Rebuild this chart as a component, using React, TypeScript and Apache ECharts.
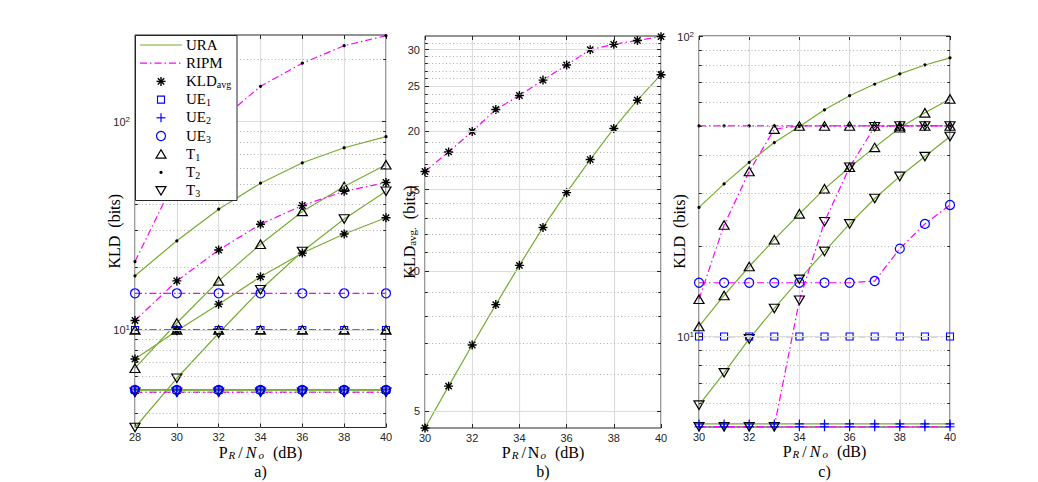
import React, { useEffect, useRef } from 'react';
import * as echarts from 'echarts';

// ---------------- data ----------------
const xA = [28, 30, 32, 34, 36, 38, 40];
const xB = [30, 31, 32, 33, 34, 35, 36, 37, 38, 39, 40];
const xC = [30, 31, 32, 33, 34, 35, 36, 37, 38, 39, 40];

// panel a
const aUraT2 = [18.2, 26.8, 38.0, 50.7, 63.5, 75.0, 84.8];
const aUraKld = [7.25, 9.9, 13.3, 18.0, 23.4, 28.9, 34.6];
const aUraT1 = [6.55, 10.8, 17.2, 25.8, 37.1, 48.9, 62.2];
const aUraT3 = [3.4, 5.86, 9.64, 15.6, 23.8, 34.1, 46.4];
const aUraUE = [5.15, 5.15, 5.15, 5.15, 5.15, 5.15, 5.15];
const aRipmT2 = [21.3, 55.0, 100.0, 148.0, 191.0, 232.0, 259.0];
const aRipmKld = [11.1, 17.2, 24.2, 32.2, 39.6, 46.3, 51.1];
const aRipmUE3 = [15.0, 15.0, 15.0, 15.0, 15.0, 15.0, 15.0];
const aRipmUE1 = [10.0, 10.0, 10.0, 10.0, 10.0, 10.0, 10.0];
const aRipmT1 = [10.0, 10.0, 10.0, 10.0, 10.0, 10.0, 10.0];
const aRipmLow = [5.02, 5.02, 5.02, 5.02, 5.02, 5.02, 5.02];

// panel b
const bRipmKld = [16.4, 18.07, 20.0, 22.3, 23.9, 25.8, 27.8, 30.0, 30.8, 31.4, 32.0];
const bUraKld = [4.6, 5.66, 6.94, 8.48, 10.3, 12.43, 14.77, 17.4, 20.3, 23.35, 26.5];

// panel c
const cUraT2 = [26.9, 32.2, 38.0, 44.2, 50.0, 56.8, 63.3, 69.2, 74.8, 80.1, 84.6];
const cUraT1 = [10.8, 13.7, 17.1, 21.0, 25.6, 31.0, 36.6, 42.6, 49.5, 55.5, 61.7];
const cUraT3 = [5.91, 7.57, 9.82, 12.4, 15.5, 19.2, 23.7, 28.8, 34.1, 39.7, 46.3];
const cUraUE2 = [5.12, 5.12, 5.12, 5.12, 5.12, 5.12, 5.12, 5.12, 5.12, 5.12, 5.12];
const cRipmUE2 = [5.01, 5.01, 5.01, 5.01, 5.01, 5.01, 5.01, 5.01, 5.01, 5.01, 5.01];
const cRipmT2 = [50.2, 50.2, 50.2, 50.2, 50.2, 50.2, 50.2, 50.2, 50.2, 50.2, 50.2];
const cRipmT1 = [13.3, 23.5, 35.4, 49.0, 50.2, 50.2, 50.2, 50.2, 50.2, 50.2, 50.2];
const cRipmT3 = [5.01, 5.01, 5.01, 5.01, 13.2, 24.1, 36.6, 49.9, 50.2, 50.2, 50.2];
const cRipmUE3 = [15.1, 15.1, 15.1, 15.1, 15.1, 15.1, 15.1, 15.3, 19.6, 23.7, 27.4];
const cRipmUE1 = [10.0, 10.0, 10.0, 10.0, 10.0, 10.0, 10.0, 10.0, 10.0, 10.0, 10.0];

// tick values
const aTicksMajor = [10, 100];
const aTicksMinor = [4, 5, 6, 7, 8, 9, 20, 30, 40, 50, 60, 70, 80, 90, 200];
const bTicksMajor = [5, 10, 15, 20, 25, 30];
const bTicksMinor = [6, 7, 8, 9, 11, 12, 13, 14, 16, 17, 18, 19, 21, 22, 23, 24, 26, 27, 28, 29, 31];
const cTicksMajor = [10, 100];
const cTicksMinor = [6, 7, 8, 9, 20, 30, 40, 50, 60, 70, 80, 90];

// ---------------- styles ----------------
const SANS = 'Liberation Sans, Arial, Helvetica, sans-serif';
const SERIF = 'Liberation Serif, Times New Roman, serif';
const AX = '#262626';
const GRID_MAJOR = '#dcdcdc';
const GRID_MINOR = '#b0b0b0';
const GREEN = '#77AC30';
const MAG = '#FF00FF';
const BLUE = '#0000FF';
const BLACK = '#000000';
const DASHDOT = [7, 3, 1.5, 3];

const ASTER = 'path://M0,-10L0,10M-10,0L10,0M-7.07,-7.07L7.07,7.07M-7.07,7.07L7.07,-7.07';
const PLUS = 'path://M0,-10L0,10M-10,0L10,0';

type MarkKey = 'kld' | 'ue1' | 'ue2' | 'ue3' | 't1' | 't2' | 't3';
const MARK: Record<MarkKey, any> = {
  kld: { symbol: ASTER, size: 9, rotate: 0, item: { color: 'none', borderColor: BLACK, borderWidth: 1.4 } },
  ue1: { symbol: 'rect', size: 7, rotate: 0, item: { color: 'none', borderColor: BLUE, borderWidth: 1.1 } },
  ue2: { symbol: PLUS, size: 9, rotate: 0, item: { color: 'none', borderColor: BLUE, borderWidth: 1.2 } },
  ue3: { symbol: 'circle', size: 9, rotate: 0, item: { color: 'none', borderColor: BLUE, borderWidth: 1.2 } },
  t1: { symbol: 'triangle', size: [10, 8.5], rotate: 0, item: { color: 'none', borderColor: BLACK, borderWidth: 1.2 } },
  t2: { symbol: 'circle', size: 3.2, rotate: 0, item: { color: BLACK, borderWidth: 0 } },
  t3: { symbol: 'triangle', size: [10, 8.5], rotate: 180, item: { color: 'none', borderColor: BLACK, borderWidth: 1.2 } },
};

function curve(panel: number, xs: number[], ys: number[], method: 'ura' | 'ripm', mark: MarkKey) {
  const m = MARK[mark];
  return {
    type: 'line',
    xAxisIndex: panel * 2,
    yAxisIndex: panel,
    data: xs.map((x, i) => [x, ys[i]]),
    symbol: m.symbol,
    symbolSize: m.size,
    symbolRotate: m.rotate,
    showSymbol: true,
    itemStyle: m.item,
    lineStyle:
      method === 'ura'
        ? { color: GREEN, width: 1.2, type: 'solid' }
        : { color: MAG, width: 1.2, type: DASHDOT },
    z: 3,
    silent: true,
    clip: false,
    animation: false,
    emphasis: { disabled: true },
  };
}

function gridSeries(
  panel: number,
  xmin: number,
  xmax: number,
  majors: number[],
  minors: number[],
  tick: number,
  withLabels: boolean
) {
  const data: any[] = [];
  for (const v of minors) {
    data.push({ yAxis: v, lineStyle: { color: GRID_MINOR, width: 1, type: [1, 2.5] }, label: { show: false } });
  }
  for (const v of majors) {
    data.push({
      yAxis: v,
      lineStyle: { color: GRID_MAJOR, width: 1.2, type: 'solid' },
      label: withLabels
        ? { show: true, position: 'start', formatter: String(v), color: AX, fontSize: 11, fontFamily: SANS, distance: 5 }
        : { show: false },
    });
  }
  const tickStyle = { color: AX, width: 1, type: 'solid' };
  for (const v of majors) {
    data.push([{ coord: [xmin, v], lineStyle: tickStyle, label: { show: false } }, { coord: [xmin + tick, v] }]);
    data.push([{ coord: [xmax - tick, v], lineStyle: tickStyle, label: { show: false } }, { coord: [xmax, v] }]);
  }
  for (const v of minors) {
    data.push([{ coord: [xmin, v], lineStyle: tickStyle, label: { show: false } }, { coord: [xmin + tick * 0.7, v] }]);
    data.push([{ coord: [xmax - tick * 0.7, v], lineStyle: tickStyle, label: { show: false } }, { coord: [xmax, v] }]);
  }
  return {
    type: 'line',
    xAxisIndex: panel * 2,
    yAxisIndex: panel,
    data: [],
    symbol: 'none',
    z: 1,
    silent: true,
    animation: false,
    markLine: {
      silent: true,
      animation: false,
      symbol: ['none', 'none'],
      label: { show: false },
      lineStyle: { type: 'solid', color: AX, width: 1 },
      emphasis: { disabled: true },
      data,
    },
  };
}

const nameRich = {
  n: { fontFamily: SERIF, fontSize: 16, color: BLACK, lineHeight: 16, verticalAlign: 'top' },
  ni: { fontFamily: SERIF, fontSize: 16, fontStyle: 'italic', color: BLACK, lineHeight: 16, verticalAlign: 'top', padding: [0, 1, 0, 1] },
  sl: { fontFamily: SERIF, fontSize: 16, color: BLACK, lineHeight: 16, verticalAlign: 'top', padding: [0, 2, 0, 2] },
  s: { fontFamily: SERIF, fontSize: 11, color: BLACK, lineHeight: 10, verticalAlign: 'bottom', padding: [8, 0, 0, 0] },
  si: { fontFamily: SERIF, fontSize: 11, fontStyle: 'italic', color: BLACK, lineHeight: 10, verticalAlign: 'bottom', padding: [8, 1, 0, 1] },
};

const powRich = {
  b: { fontFamily: SANS, fontSize: 11, color: AX, lineHeight: 12, verticalAlign: 'bottom' },
  p: { fontFamily: SANS, fontSize: 8, color: AX, lineHeight: 8, verticalAlign: 'top', padding: [0, 0, 6, 0] },
};

function powLabel(v: number) {
  const e = Math.log10(v);
  if (Math.abs(e - Math.round(e)) > 1e-6) return '';
  return `{b|10}{p|${Math.round(e)}}`;
}

const SP = '\u00a0\u00a0';
const xNameItalic = `{n|P}{si|R}{sl|/}{ni|N}{si|o}{n|${SP}(dB)}`;
const xNameRoman = `{n|P}{si|R}{sl|/}{n|N}{si|o}{n|${SP}(dB)}`;

const grids = [
  { left: 135, top: 35, width: 251, height: 392.5 },
  { left: 425, top: 36, width: 236, height: 392 },
  { left: 699, top: 36, width: 251, height: 391 },
];
const xRanges = [
  [28, 40],
  [30, 40],
  [30, 40],
];
const yRanges = [
  [3.4, 261],
  [4.6, 32.1],
  [5, 100],
];
const yNames = [`{n|KLD${SP}(bits)}`, `{n|KLD}{s|avg.}{n|${SP}(bits)}`, `{n|KLD${SP}(bits)}`];
const yNameGaps = [13, 8, 12];
const xNames = [xNameItalic, xNameRoman, xNameItalic];

function buildXAxes() {
  const axes: any[] = [];
  grids.forEach((_, i) => {
    const [mn, mx] = xRanges[i];
    axes.push({
      gridIndex: i,
      type: 'value',
      min: mn,
      max: mx,
      interval: 2,
      position: 'bottom',
      axisLine: { show: false },
      axisTick: { show: true, inside: true, length: 4, lineStyle: { color: AX, width: 1 } },
      axisLabel: { show: true, fontSize: 11, fontFamily: SANS, color: AX, margin: 4 },
      splitLine: { show: true, lineStyle: { color: GRID_MAJOR, width: 1.2 } },
      name: xNames[i],
      nameLocation: 'middle',
      nameGap: 16.5,
      nameMoveOverlap: false,
      nameTextStyle: { rich: nameRich },
    });
    axes.push({
      gridIndex: i,
      type: 'value',
      min: mn,
      max: mx,
      interval: 2,
      position: 'top',
      axisLine: { show: false },
      axisTick: { show: true, inside: true, length: 4, lineStyle: { color: AX, width: 1 } },
      axisLabel: { show: false },
      splitLine: { show: false },
    });
  });
  return axes;
}

function buildYAxes() {
  return grids.map((_, i) => ({
    gridIndex: i,
    type: 'log',
    logBase: 10,
    min: yRanges[i][0],
    max: yRanges[i][1],
    axisLine: { show: false },
    axisTick: { show: false },
    splitLine: { show: false },
    axisLabel:
      i === 1
        ? { show: false }
        : { show: true, margin: 5, formatter: (v: number) => powLabel(v), rich: powRich, showMinLabel: true, showMaxLabel: true },
    name: yNames[i],
    nameLocation: 'middle',
    nameGap: yNameGaps[i],
    nameMoveOverlap: false,
    nameRotate: 90,
    nameTextStyle: { rich: nameRich },
  }));
}

// ---------------- legend (graphic) ----------------
const legendRows: { label: string; line?: 'ura' | 'ripm'; mark?: MarkKey }[] = [
  { label: '{n|URA}', line: 'ura' },
  { label: '{n|RIPM}', line: 'ripm' },
  { label: '{n|KLD}{s|avg}', mark: 'kld' },
  { label: '{n|UE}{s|1}', mark: 'ue1' },
  { label: '{n|UE}{s|2}', mark: 'ue2' },
  { label: '{n|UE}{s|3}', mark: 'ue3' },
  { label: '{n|T}{s|1}', mark: 't1' },
  { label: '{n|T}{s|2}', mark: 't2' },
  { label: '{n|T}{s|3}', mark: 't3' },
];

const legendRich = {
  n: { fontFamily: SERIF, fontSize: 15, color: BLACK, lineHeight: 16, verticalAlign: 'top' },
  s: { fontFamily: SERIF, fontSize: 10, color: BLACK, lineHeight: 10, verticalAlign: 'bottom', padding: [8, 0, 0, 0] },
};

function markerGraphic(m: MarkKey, cx: number, cy: number): any[] {
  const Z = 102;
  const ln = (x1: number, y1: number, x2: number, y2: number, c: string, w: number) => ({
    type: 'line',
    z: Z,
    silent: true,
    shape: { x1: cx + x1, y1: cy + y1, x2: cx + x2, y2: cy + y2 },
    style: { stroke: c, lineWidth: w },
  });
  switch (m) {
    case 'kld':
      return [
        ln(0, -4.5, 0, 4.5, BLACK, 1.4),
        ln(-4.5, 0, 4.5, 0, BLACK, 1.4),
        ln(-3.2, -3.2, 3.2, 3.2, BLACK, 1.4),
        ln(-3.2, 3.2, 3.2, -3.2, BLACK, 1.4),
      ];
    case 'ue1':
      return [{ type: 'rect', z: Z, silent: true, shape: { x: cx - 3.5, y: cy - 3.5, width: 7, height: 7 }, style: { fill: 'none', stroke: BLUE, lineWidth: 1.1 } }];
    case 'ue2':
      return [ln(0, -4.5, 0, 4.5, BLUE, 1.2), ln(-4.5, 0, 4.5, 0, BLUE, 1.2)];
    case 'ue3':
      return [{ type: 'circle', z: Z, silent: true, shape: { cx, cy, r: 4.5 }, style: { fill: 'none', stroke: BLUE, lineWidth: 1.2 } }];
    case 't1':
      return [{ type: 'polygon', z: Z, silent: true, shape: { points: [[cx, cy - 4.5], [cx - 5, cy + 4], [cx + 5, cy + 4]] }, style: { fill: 'none', stroke: BLACK, lineWidth: 1.2 } }];
    case 't2':
      return [{ type: 'circle', z: Z, silent: true, shape: { cx, cy, r: 1.6 }, style: { fill: BLACK } }];
    case 't3':
      return [{ type: 'polygon', z: Z, silent: true, shape: { points: [[cx - 5, cy - 4], [cx + 5, cy - 4], [cx, cy + 4.5]] }, style: { fill: 'none', stroke: BLACK, lineWidth: 1.2 } }];
  }
  return [];
}

function buildGraphic() {
  const els: any[] = [];
  const LX = 135.5, LY = 35.5, LW = 101.5, LH = 165;
  els.push({ type: 'rect', z: 100, silent: true, shape: { x: LX, y: LY, width: LW, height: LH }, style: { fill: '#ffffff', stroke: AX, lineWidth: 1 } });
  legendRows.forEach((row, k) => {
    const y = 45 + k * 18.2;
    if (row.line) {
      els.push({
        type: 'line',
        z: 101,
        silent: true,
        shape: { x1: 140, y1: y, x2: 182, y2: y },
        style: row.line === 'ura' ? { stroke: GREEN, lineWidth: 1.2 } : { stroke: MAG, lineWidth: 1.2, lineDash: DASHDOT },
      });
    }
    if (row.mark) els.push(...markerGraphic(row.mark, 161, y));
    els.push({
      type: 'text',
      z: 101,
      silent: true,
      x: 186,
      y,
      style: { text: row.label, rich: legendRich, align: 'left', verticalAlign: 'middle', textAlign: 'left', textVerticalAlign: 'middle' },
    });
  });
  const caps = ['a)', 'b)', 'c)'];
  grids.forEach((g, i) => {
    els.push({
      type: 'text',
      z: 101,
      silent: true,
      x: g.left + g.width / 2,
      y: 471,
      style: { text: caps[i], fontFamily: SERIF, fontSize: 16, fill: BLACK, align: 'center', verticalAlign: 'middle', textAlign: 'center', textVerticalAlign: 'middle' },
    });
  });
  return els;
}

function buildOption() {
  const series: any[] = [
    gridSeries(0, 28, 40, aTicksMajor, aTicksMinor, 0.19, false),
    gridSeries(1, 30, 40, bTicksMajor, bTicksMinor, 0.17, true),
    gridSeries(2, 30, 40, cTicksMajor, cTicksMinor, 0.16, false),

    // panel a
    curve(0, xA, aUraT2, 'ura', 't2'),
    curve(0, xA, aUraKld, 'ura', 'kld'),
    curve(0, xA, aUraT1, 'ura', 't1'),
    curve(0, xA, aUraT3, 'ura', 't3'),
    curve(0, xA, aRipmT2, 'ripm', 't2'),
    curve(0, xA, aRipmKld, 'ripm', 'kld'),
    curve(0, xA, aRipmUE3, 'ripm', 'ue3'),
    curve(0, xA, aRipmUE1, 'ripm', 'ue1'),
    curve(0, xA, aRipmT1, 'ripm', 't1'),
    curve(0, xA, aRipmLow, 'ripm', 't3'),
    curve(0, xA, aRipmLow, 'ripm', 'ue2'),
    curve(0, xA, aUraUE, 'ura', 'ue1'),
    curve(0, xA, aUraUE, 'ura', 'ue3'),
    curve(0, xA, aUraUE, 'ura', 'ue2'),

    // panel b
    curve(1, xB, bRipmKld, 'ripm', 'kld'),
    curve(1, xB, bUraKld, 'ura', 'kld'),

    // panel c
    curve(2, xC, cUraT2, 'ura', 't2'),
    curve(2, xC, cUraT1, 'ura', 't1'),
    curve(2, xC, cUraT3, 'ura', 't3'),
    curve(2, xC, cRipmT2, 'ripm', 't2'),
    curve(2, xC, cRipmUE3, 'ripm', 'ue3'),
    curve(2, xC, cRipmUE1, 'ripm', 'ue1'),
    curve(2, xC, cRipmT1, 'ripm', 't1'),
    curve(2, xC, cRipmUE2, 'ripm', 'ue2'),
    curve(2, xC, cRipmT3, 'ripm', 't3'),
    curve(2, xC, cUraUE2, 'ura', 'ue2'),
  ];

  return {
    animation: false,
    backgroundColor: '#ffffff',
    textStyle: { fontFamily: SANS },
    grid: grids.map((g) => ({ ...g, show: true, backgroundColor: '#ffffff', borderColor: AX, borderWidth: 1, containLabel: false })),
    xAxis: buildXAxes(),
    yAxis: buildYAxes(),
    series,
    graphic: { elements: buildGraphic() },
  };
}

export default function App() {
  const ref = useRef<HTMLDivElement>(null);
  useEffect(() => {
    if (!ref.current) return;
    const chart = echarts.init(ref.current, undefined, { renderer: 'svg' });
    chart.setOption(buildOption() as any);
    return () => {
      chart.dispose();
    };
  }, []);
  return (
    <div
      ref={ref}
      style={{ position: 'fixed', left: 0, top: 0, width: 1038, height: 482, background: '#ffffff' }}
    />
  );
}
